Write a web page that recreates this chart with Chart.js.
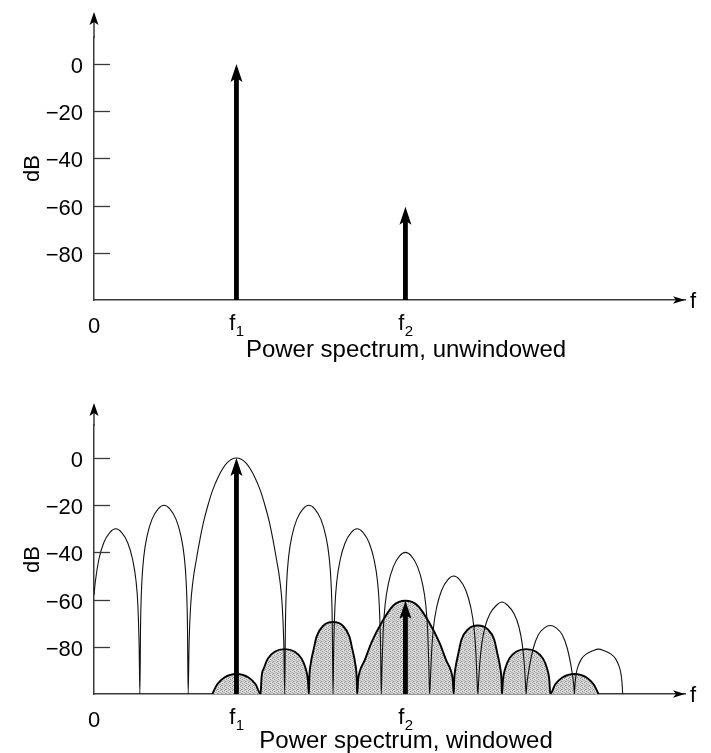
<!DOCTYPE html>
<html><head><meta charset="utf-8">
<script src="https://cdn.jsdelivr.net/npm/chart.js@4.4.1/dist/chart.umd.min.js"></script>
<style>
html,body{margin:0;padding:0;background:#fff;}
#wrap{width:711px;height:753px;position:relative;background:#fff;}
.box{position:absolute;left:0;width:711px;}
#top{top:0;height:362px;}
#bot{top:362px;height:391px;}
</style></head><body>
<div id="wrap">
<div class="box" id="top"><canvas id="c1" width="711" height="362"></canvas></div>
<div class="box" id="bot"><canvas id="c2" width="711" height="391"></canvas></div>
</div>
<script>
// ---- data (frequency in bin units, level in dB) ----
const yTickValues = [0, -20, -40, -60, -80];
const xTickValues = [0, 2.95, 6.45];
const xTickText = ['0', 'f', 'f'];
const xTickSub = ['', '1', '2'];
const spikeFreqs = [2.95, 6.45];
const spikeDbUnwindowed = [0, -60.5];
const spikeDbWindowed = [0, -60.5];

// unwindowed leakage of f1 (thin curve), lobe by lobe
const leakageFreqs = [
  0, 0.03, 0.10, 0.20, 0.33, 0.45, 0.57, 0.70, 0.80, 0.87, 0.91, 0.935, 0.95,
  0.965, 0.99, 1.03, 1.10, 1.20, 1.33, 1.45, 1.57, 1.70, 1.80, 1.87, 1.91, 1.935, 1.95,
  1.97, 2.00, 2.05, 2.12, 2.19, 2.27, 2.36, 2.45, 2.573, 2.75, 2.95, 3.15, 3.327, 3.45, 3.54, 3.63, 3.71, 3.78, 3.85, 3.90, 3.93, 3.95,
  3.965, 3.99, 4.03, 4.10, 4.20, 4.33, 4.45, 4.57, 4.70, 4.80, 4.87, 4.91, 4.935, 4.95,
  4.965, 4.99, 5.03, 5.10, 5.20, 5.33, 5.45, 5.57, 5.70, 5.80, 5.87, 5.91, 5.935, 5.95,
  5.965, 5.99, 6.03, 6.10, 6.20, 6.33, 6.45, 6.57, 6.70, 6.80, 6.87, 6.91, 6.935, 6.95,
  6.965, 6.99, 7.03, 7.10, 7.20, 7.33, 7.45, 7.57, 7.70, 7.80, 7.87, 7.91, 7.935, 7.95,
  7.965, 7.99, 8.03, 8.10, 8.20, 8.33, 8.45, 8.57, 8.70, 8.80, 8.87, 8.91, 8.935, 8.95,
  8.965, 8.99, 9.03, 9.10, 9.20, 9.33, 9.45, 9.57, 9.70, 9.80, 9.87, 9.91, 9.935, 9.95,
  9.965, 9.99, 10.03, 10.10, 10.20, 10.33, 10.45, 10.57, 10.70, 10.80, 10.87, 10.91, 10.935, 10.95
];
const leakageDb = [
  -58, -52, -43, -36, -31.5, -30, -31.5, -36, -43, -52, -63, -80, -100,
  -70, -53, -42, -33, -26, -21.5, -20, -21.5, -26, -33, -42, -53, -70, -100,
  -78, -63, -52, -43, -35, -27, -20, -14, -8, -2.2, 0, -2.2, -8, -14, -20, -27, -35, -43, -52, -63, -78, -100,
  -70, -53, -42, -33, -26, -21.5, -20, -21.5, -26, -33, -42, -53, -70, -100,
  -80, -63, -52, -43, -36, -31.5, -30, -31.5, -36, -43, -52, -63, -80, -100,
  -88, -73, -62, -53, -46, -41.5, -40, -41.5, -46, -53, -62, -73, -88, -100,
  -95, -83, -72, -63, -56, -51.5, -50, -51.5, -56, -63, -72, -83, -95, -100,
  -95, -87, -79, -71.5, -66, -62.5, -61, -62.5, -66, -71.5, -79, -87, -95, -100,
  -96, -92, -87, -80.5, -75, -72, -71, -72, -75, -80.5, -87, -92, -96, -100,
  -95, -91, -88, -85, -83, -81.7, -81, -81.7, -83, -85, -88, -91, -95, -100
];

// windowed spectrum lobes (shaded)
const windowedFreqs = [
  2.45, 2.55, 2.70, 2.95, 3.20, 3.35, 3.45,
  3.47, 3.52, 3.60, 3.75, 3.95, 4.15, 4.30, 4.38, 4.43, 4.45,
  4.46, 4.49, 4.55, 4.61, 4.75, 4.95, 5.15, 5.29, 5.35, 5.41, 5.44, 5.45,
  5.47, 5.51, 5.60, 5.75, 5.95, 6.20, 6.45, 6.70, 6.95, 7.15, 7.30, 7.39, 7.43, 7.45,
  7.46, 7.49, 7.55, 7.61, 7.75, 7.95, 8.15, 8.29, 8.35, 8.41, 8.44, 8.45,
  8.47, 8.52, 8.60, 8.75, 8.95, 9.15, 9.30, 9.38, 9.43, 9.45,
  9.55, 9.70, 9.95, 10.20, 10.35, 10.45
];
const windowedDb = [
  -100, -96, -93, -91.5, -93, -96, -100,
  -93, -89, -85, -82, -81, -82, -85, -89, -94, -100,
  -93, -87, -81, -75.7, -71, -69.5, -71, -75.7, -81, -87, -93, -100,
  -94, -90, -86, -78, -70, -62.5, -60.5, -62.5, -70, -78, -86, -90, -94, -100,
  -94, -88.5, -82.5, -77, -72.5, -71, -72.5, -77, -82.5, -88.5, -94, -100,
  -94, -89, -85, -82, -81, -82, -85, -89, -94, -100,
  -96, -93, -91.5, -93, -96, -100
];

const FONT = '"Liberation Sans", Arial, Helvetica, sans-serif';
const AXIS = '#3a3a3a';

function pts(xs, ys) { return xs.map((x, i) => ({ x: x, y: ys[i] })); }

function arrowHead(ctx, tx, ty, dx, dy, len, half, notch) {
  const bx = tx - dx * len, by = ty - dy * len;
  const nx = -dy, ny = dx;
  ctx.beginPath();
  ctx.moveTo(tx, ty);
  ctx.lineTo(bx + nx * half, by + ny * half);
  ctx.lineTo(tx - dx * (len - notch), ty - dy * (len - notch));
  ctx.lineTo(bx - nx * half, by - ny * half);
  ctx.closePath();
  ctx.fillStyle = '#000';
  ctx.fill();
}

const decor = {
  id: 'decor',
  afterDatasetsDraw(chart, args, o) {
    const { ctx, chartArea: ca, scales: { x, y } } = chart;
    ctx.save();
    // y axis extension with arrow
    const yTip = ca.top - o.axisExtend;
    ctx.strokeStyle = AXIS; ctx.lineWidth = 1.5;
    ctx.beginPath(); ctx.moveTo(ca.left, ca.top + 1); ctx.lineTo(ca.left, yTip + 8); ctx.stroke();
    arrowHead(ctx, ca.left, yTip, 0, -1, 13, 4.5, 3);
    // x axis arrow
    arrowHead(ctx, ca.right, ca.bottom, 1, 0, 12, 3.8, 3);
    // inner tick marks on y
    ctx.strokeStyle = AXIS; ctx.lineWidth = 1.3;
    y.ticks.forEach(t => {
      const py = Math.round(y.getPixelForValue(t.value)) + 0.5;
      ctx.beginPath(); ctx.moveTo(ca.left, py); ctx.lineTo(ca.left + 16, py); ctx.stroke();
    });
    // spectral line arrows
    const base = y.getPixelForValue(y.min);
    o.spikeFreqs.forEach((f, i) => {
      const px = x.getPixelForValue(f);
      const pt = y.getPixelForValue(o.spikeDb[i]);
      ctx.fillStyle = '#000';
      ctx.fillRect(px - 2.4, pt + 12, 4.8, base - pt - 12);
      arrowHead(ctx, px, pt, 0, -1, 18, 6, 4);
    });
    // x tick labels with subscripts
    ctx.fillStyle = '#000';
    ctx.textBaseline = 'alphabetic';
    ctx.textAlign = 'left';
    xTickValues.forEach((v, i) => {
      const px = x.getPixelForValue(v);
      ctx.font = '22px ' + FONT;
      const wb = ctx.measureText(xTickText[i]).width;
      ctx.font = '15px ' + FONT;
      const ws = xTickSub[i] ? ctx.measureText(xTickSub[i]).width : 0;
      const start = px - (wb + ws) / 2;
      ctx.font = '22px ' + FONT;
      const isSub = !!xTickSub[i];
      ctx.fillText(xTickText[i], start, ca.bottom + (isSub ? 30 : 33));
      if (isSub) {
        ctx.font = '15px ' + FONT;
        ctx.fillText(xTickSub[i], start + wb + 0.5, ca.bottom + 36);
      }
    });
    // axis name f
    ctx.font = '22px ' + FONT;
    ctx.fillText('f', ca.right + 5, ca.bottom + 8);
    // caption under the axis
    ctx.font = '24px ' + FONT;
    ctx.textAlign = 'center';
    ctx.textBaseline = 'middle';
    ctx.fillText(o.title, ca.left + 312, chart.height - 12);
    ctx.restore();
  }
};

function makeOptions(cfg) {
  return {
    responsive: false,
    animation: false,
    devicePixelRatio: 1,
    layout: { padding: { left: 20, right: 26, top: cfg.top, bottom: 0 }, autoPadding: false },
    plugins: {
      legend: { display: false },
      tooltip: { enabled: false },
      decor: { axisExtend: cfg.axisExtend, spikeFreqs: spikeFreqs, spikeDb: cfg.spikeDb, title: cfg.title }
    },
    elements: { point: { radius: 0 } },
    scales: {
      x: {
        type: 'linear', min: 0, max: 12.24, position: 'bottom',
        ticks: { display: false },
        grid: { display: false, drawTicks: false },
        border: { display: true, color: AXIS, width: 1.5 },
        title: { display: false },
        afterFit: s => { s.height = cfg.xh; }
      },
      y: {
        type: 'linear', min: -100, max: cfg.ymax, position: 'left',
        afterBuildTicks: s => { s.ticks = yTickValues.map(v => ({ value: v })); },
        ticks: {
          font: { family: FONT, size: 22 }, color: '#000', padding: 11, labelOffset: 3,
          callback: v => (v < 0 ? '\u2212' + Math.abs(v) : String(v))
        },
        grid: { display: false, drawTicks: false },
        border: { display: true, color: AXIS, width: 1.5 },
        title: { display: true, text: 'dB', font: { family: FONT, size: 22 }, color: '#000', padding: 0 },
        afterFit: s => { s.width = 74; }
      }
    }
  };
}

// stipple pattern for the windowed lobes
const pc = document.createElement('canvas');
pc.width = 4; pc.height = 4;
const pctx = pc.getContext('2d');
pctx.fillStyle = '#dcdcdc'; pctx.fillRect(0, 0, 4, 4);
pctx.fillStyle = '#8c8c8c';
[[0, 0], [2, 1], [1, 3]].forEach(p => pctx.fillRect(p[0], p[1], 1, 1));
pctx.fillStyle = '#b4b4b4';
[[3, 2], [2, 3], [0, 2]].forEach(p => pctx.fillRect(p[0], p[1], 1, 1));
const stipple = pctx.createPattern(pc, 'repeat');

new Chart(document.getElementById('c1'), {
  type: 'line',
  data: { datasets: [] },
  options: makeOptions({ top: 37, xh: 62, ymax: 11.44, axisExtend: 25,
    title: 'Power spectrum, unwindowed', spikeDb: spikeDbUnwindowed }),
  plugins: [decor]
});

new Chart(document.getElementById('c2'), {
  type: 'line',
  data: {
    datasets: [
      {
        label: 'Unwindowed leakage',
        data: pts(leakageFreqs, leakageDb),
        borderColor: '#111', borderWidth: 1.1, fill: false,
        cubicInterpolationMode: 'monotone', order: 0
      },
      {
        label: 'Windowed',
        data: pts(windowedFreqs, windowedDb),
        borderColor: '#000', borderWidth: 1.9,
        backgroundColor: stipple, fill: 'start',
        cubicInterpolationMode: 'monotone', order: 1
      }
    ]
  },
  options: makeOptions({ top: 63, xh: 59, ymax: 14, axisExtend: 22,
    title: 'Power spectrum, windowed', spikeDb: spikeDbWindowed }),
  plugins: [decor]
});
</script>
</body></html>
